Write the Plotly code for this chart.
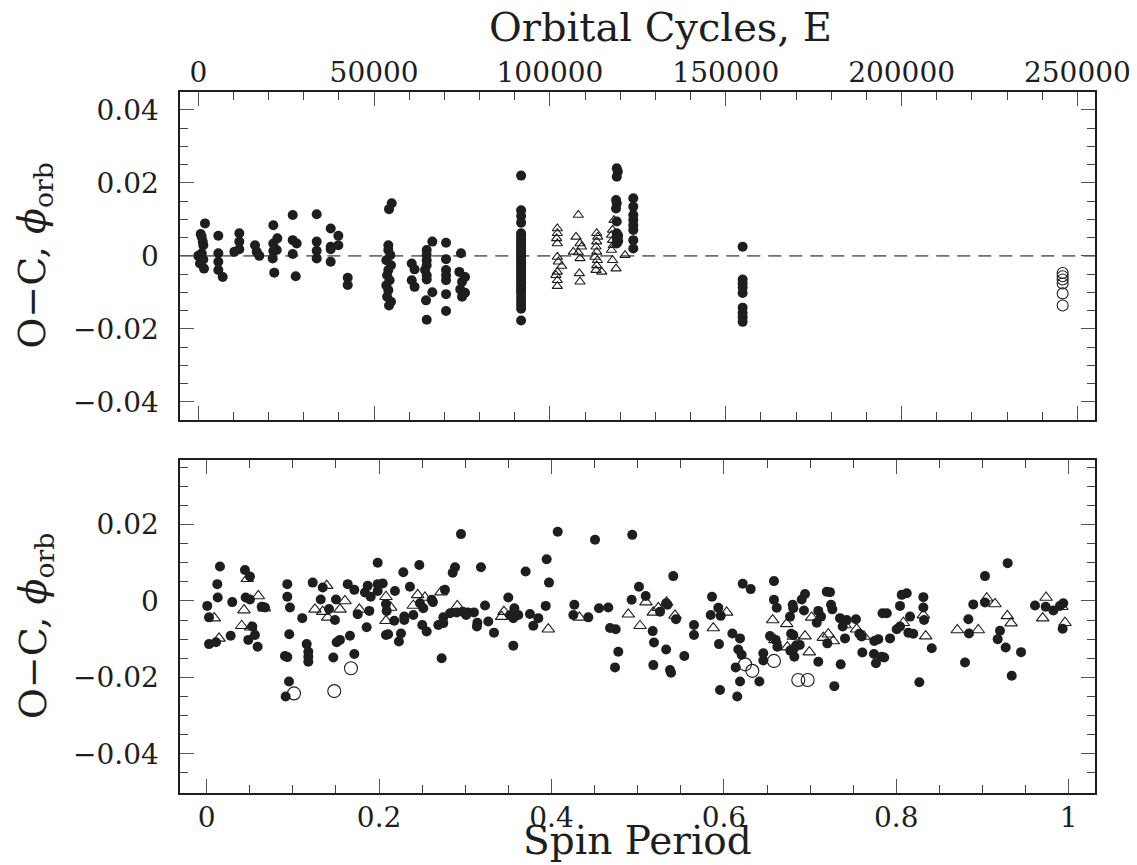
import plotly.graph_objects as go

# ---------------- Top panel: O-C vs orbital cycle E ----------------
top_filled_E = [
    1900, 680, 970, 1250, 1420, 0, 970, 970, 480, 1620, 1420,
    5690, 5690, 5690, 5690, 6940,
    11660, 11660, 11660, 10240,
    16130, 16600, 17350,
    21330, 21330, 22470, 22300, 21330, 21160, 21610,
    26850, 26850, 27980, 26850, 27700,
    33670, 33670, 33670, 33670,
    37650, 37650, 37650, 37650, 39820, 39820,
    42490, 42490,
    55000, 54240, 54040, 54040, 54600, 53470, 54800, 54040, 53700, 54400, 53470, 54040, 53700, 54800, 54240,
    60690, 61500, 60690, 61500,
    64950, 64950, 64950, 64950, 64470, 64950, 64950, 66550, 66550, 64760, 64950,
    70450, 70450, 70450, 70450, 70450, 70450, 70450,
    74710, 74230, 75850, 75000, 74500, 75850, 75000,
    91800, 91800, 91800, 91800, 91800, 91800, 91800, 91800, 91800, 91800, 91800,
    91800, 91800, 91800, 91800, 91800, 91800, 91800, 91800, 91800, 91800, 91800,
    91800, 91800, 91800, 91800, 91800, 91800, 91800, 91800, 91800, 91800,
    119000, 119300, 119000, 118800, 119000, 118800, 119000, 119000, 119400, 119000, 119400, 119000,
    123700, 123700, 123700, 123700, 123700, 123700, 123700, 123700,
    154800, 154800, 154800, 154800, 154800, 154800, 154800, 154800, 154800,
]
top_filled_oc = [
    0.0089, 0.0060, 0.0052, 0.0039, 0.0029, 0.0000, 0.0007, -0.0007, -0.0021, -0.0035, -0.0010,
    0.0055, 0.0007, -0.0016, -0.0039, -0.0058,
    0.0062, 0.0039, 0.0018, 0.0011,
    0.0029, 0.0011, 0.0000,
    0.0084, 0.0034, 0.0048, 0.0016, 0.0013, -0.0007, -0.0046,
    0.0112, 0.0043, 0.0034, 0.0005, -0.0056,
    0.0114, 0.0039, 0.0014, -0.0007,
    0.0075, 0.0025, 0.0018, -0.0016, 0.0055, 0.0029,
    -0.0060, -0.0080,
    0.0144, 0.0128, 0.0029, 0.0016, 0.0002, -0.0012, -0.0026, -0.0039, -0.0053, -0.0067, -0.0081, -0.0094, -0.0112, -0.0126, -0.0136,
    -0.0021, -0.0037, -0.0067, -0.0085,
    0.0016, 0.0002, -0.0012, -0.0026, -0.0039, -0.0053, -0.0065, 0.0039, -0.0100, -0.0122, -0.0175,
    0.0036, -0.0009, -0.0039, -0.0053, -0.0067, -0.0105, -0.0151,
    0.0007, -0.0044, -0.0058, -0.0071, -0.0092, -0.0101, -0.0112,
    0.0220, 0.0125, 0.0109, 0.0091, 0.0062, 0.0055, 0.0047, 0.0040, 0.0032, 0.0025, 0.0017,
    0.0010, 0.0002, -0.0005, -0.0013, -0.0020, -0.0028, -0.0035, -0.0043, -0.0050, -0.0058, -0.0065,
    -0.0073, -0.0080, -0.0088, -0.0095, -0.0103, -0.0115, -0.0125, -0.0135, -0.0145, -0.0177,
    0.0240, 0.0231, 0.0217, 0.0153, 0.0144, 0.0130, 0.0094, 0.0062, 0.0055, 0.0048, 0.0041, 0.0034,
    0.0158, 0.0135, 0.0112, 0.0098, 0.0084, 0.0071, 0.0043, 0.0020,
    0.0025, -0.0065, -0.0076, -0.0087, -0.0102, -0.0142, -0.0157, -0.0168, -0.0181,
]
top_tri_E = [
    102100, 102100, 101900, 102100, 102100, 102400, 103350, 102100, 101700, 102100, 102100,
    108070, 107420, 108550, 109000, 106650, 108070, 108550, 108360, 108550,
    113300, 113600, 113300, 113100, 113300, 112800, 113500, 113300, 113100, 114730,
    118230, 117800, 117500, 117800, 118000, 117500, 121350, 117800, 118800,
]
top_tri_oc = [
    0.0075, 0.0062, 0.0048, 0.0034, -0.0003, -0.0016, -0.0028, -0.0044, -0.0053, -0.0067, -0.0083,
    0.0112, 0.0052, 0.0034, 0.0025, 0.0011, 0.0009, -0.0007, -0.0048, -0.0071,
    0.0062, 0.0052, 0.0039, 0.0025, 0.0011, -0.0003, -0.0012, -0.0026, -0.0039, -0.0044,
    0.0098, 0.0071, 0.0057, 0.0043, 0.0029, 0.0016, 0.0002, -0.0012, -0.0035,
]
top_open_E = [245800, 245800, 245800, 245800, 245800, 245800]
top_open_oc = [-0.0047, -0.0056, -0.0065, -0.0076, -0.0103, -0.0136]

# ---------------- Bottom panel: O-C vs spin phase ----------------
bot_filled_phase = [
    0.0007, 0.0027, 0.0027, 0.0108, 0.0123, 0.0128, 0.0154, 0.0278, 0.0297, 0.0444, 0.0502, 0.0452,
    0.0502, 0.0483, 0.0529, 0.0560, 0.0591, 0.0638, 0.0676,
    0.0935, 0.0935, 0.0966, 0.0908, 0.0935, 0.0958, 0.0955, 0.0916,
    0.1109, 0.1160, 0.1179, 0.1179, 0.1179, 0.1230, 0.1323, 0.1346, 0.1419, 0.1469, 0.1488, 0.1500,
    0.1508, 0.1546, 0.1636, 0.1662, 0.1713, 0.1713, 0.1752, 0.1836, 0.1856, 0.1868, 0.1887, 0.1903,
    0.1984, 0.1984, 0.2042, 0.1984, 0.2080, 0.2088, 0.2080, 0.2105, 0.2184, 0.2176, 0.2230, 0.2254,
    0.2281, 0.2292, 0.2292, 0.2358, 0.2397, 0.2467,
    0.2474, 0.2513, 0.2501, 0.2552, 0.2610, 0.2625, 0.2764, 0.2726, 0.2687, 0.2745, 0.2745, 0.2823,
    0.2854, 0.2881, 0.2900, 0.2970, 0.3030, 0.3010, 0.3100, 0.2950, 0.3140, 0.3135, 0.3182, 0.3229,
    0.3267, 0.3333, 0.3499, 0.3520, 0.3557, 0.3569, 0.3615, 0.3557, 0.3700, 0.3750, 0.3789, 0.3847,
    0.3933, 0.3944, 0.3971, 0.4072,
    0.4505, 0.4937, 0.5413, 0.4265, 0.4253, 0.4427, 0.4551, 0.4659, 0.4679, 0.4745, 0.4775, 0.4737,
    0.4930, 0.5015, 0.5093, 0.5174, 0.5189, 0.5181, 0.5259, 0.5330, 0.5345, 0.5330, 0.5375, 0.5387,
    0.5444, 0.5541, 0.5653, 0.5653, 0.5862, 0.5847, 0.5935, 0.5963, 0.5943, 0.6218, 0.6311, 0.6098,
    0.6187, 0.6167, 0.6206, 0.6137, 0.6187, 0.5955, 0.6155, 0.6411,
    0.6581, 0.6581, 0.6613, 0.6535, 0.6600, 0.6620, 0.6457, 0.6457, 0.6767, 0.6798, 0.6805, 0.6780,
    0.6805, 0.6770, 0.6810, 0.6840, 0.6880, 0.6817, 0.6903, 0.6941, 0.6929, 0.7077, 0.7095, 0.7127,
    0.7095, 0.7193, 0.7231, 0.7243, 0.7258, 0.7200, 0.7281, 0.7347, 0.7378, 0.7425, 0.7405, 0.7355,
    0.7532, 0.7571, 0.7598, 0.7606, 0.7745, 0.7791, 0.7741, 0.7764, 0.7830, 0.7860, 0.7840, 0.7890,
    0.7927, 0.8005, 0.8043, 0.8063, 0.8121, 0.8043, 0.8140, 0.8197, 0.8159, 0.8314, 0.8314, 0.8322,
    0.8411, 0.8267,
    0.8797, 0.8836, 0.8843, 0.8893, 0.9029, 0.9029, 0.9203, 0.9176, 0.9269, 0.9292, 0.9339, 0.9447,
    0.9609, 0.9733, 0.9822, 0.9899, 0.9937, 0.9930,
]
bot_filled_oc = [
    -0.0013, -0.0043, -0.0113, -0.0108, 0.0044, 0.0009, 0.0090, -0.0091, -0.0003, 0.0081, 0.0064, 0.0009,
    0.0004, -0.0102, -0.0067, -0.0089, -0.0120, -0.0015, -0.0017,
    0.0044, 0.0011, -0.0017, -0.0144, -0.0147, -0.0087, -0.0211, -0.0250,
    -0.0045, -0.0113, -0.0133, -0.0146, -0.0159, 0.0048, 0.0004, 0.0035, -0.0021, -0.0148, -0.0050, 0.0004,
    -0.0108, -0.0102, 0.0044, -0.0091, 0.0029, -0.0139, -0.0035, 0.0022, -0.0069, 0.0040, -0.0026, 0.0011,
    0.0100, 0.0044, 0.0046, 0.0026, -0.0008, -0.0026, -0.0089, -0.0087, 0.0026, -0.0052, -0.0106, -0.0085,
    0.0075, -0.0041, -0.0050, 0.0037, -0.0037, 0.0094,
    -0.0006, -0.0019, -0.0063, -0.0080, 0.0003, -0.0003, 0.0029, -0.0150, -0.0063, -0.0043, -0.0058, -0.0032,
    0.0074, 0.0088, -0.0030, -0.0028, -0.0030, -0.0037, -0.0030, 0.0175, -0.0057, -0.0067, 0.0088, -0.0012,
    -0.0054, -0.0083, 0.0009, -0.0037, -0.0045, -0.0019, -0.0037, -0.0117, 0.0077, -0.0034, -0.0065, -0.0045,
    -0.0013, 0.0109, 0.0048, 0.0181,
    0.0160, 0.0173, 0.0065, -0.0010, -0.0037, -0.0043, -0.0019, -0.0017, -0.0071, -0.0074, -0.0133, -0.0174,
    0.0003, 0.0037, 0.0013, -0.0079, -0.0109, -0.0168, -0.0028, -0.0006, -0.0010, -0.0127, -0.0181, -0.0188,
    -0.0048, -0.0144, -0.0063, -0.0089, 0.0011, -0.0037, -0.0018, -0.0039, -0.0113, 0.0045, 0.0031, -0.0085,
    -0.0098, -0.0127, -0.0141, -0.0174, -0.0211, -0.0233, -0.0250, -0.0211,
    0.0052, 0.0003, -0.0018, -0.0092, -0.0102, -0.0120, -0.0137, -0.0156, -0.0041, -0.0010, -0.0019, -0.0086,
    -0.0089, -0.0130, -0.0125, -0.0116, -0.0115, -0.0146, 0.0004, 0.0018, -0.0025, -0.0057, -0.0026, -0.0041,
    -0.0159, 0.0024, 0.0023, -0.0010, -0.0022, -0.0111, -0.0223, -0.0045, -0.0067, -0.0050, -0.0098, -0.0166,
    -0.0048, -0.0086, -0.0093, -0.0135, -0.0105, -0.0100, -0.0139, -0.0163, -0.0146, -0.0148, -0.0032, -0.0032,
    -0.0098, -0.0074, -0.0013, 0.0016, 0.0020, -0.0067, -0.0083, -0.0086, -0.0041, 0.0010, -0.0017, -0.0050,
    -0.0124, -0.0213,
    -0.0161, -0.0048, -0.0085, -0.0009, 0.0065, -0.0004, -0.0078, -0.0100, -0.0122, 0.0099, -0.0196, -0.0134,
    -0.0012, -0.0015, -0.0025, -0.0013, -0.0006, -0.0073,
]
bot_tri_phase = [
    0.0088, 0.0143, 0.0433, 0.0406, 0.0471, 0.0510, 0.0599, 0.0669, 0.1256, 0.1346, 0.1392, 0.1404,
    0.1546, 0.1604, 0.1771, 0.2080, 0.2080, 0.2134, 0.2397, 0.2448, 0.2532, 0.2718, 0.2907, 0.3422,
    0.3449, 0.3963, 0.4323, 0.4891, 0.5027, 0.5096, 0.5181, 0.5239, 0.5336, 0.5433, 0.5877, 0.6032,
    0.6566, 0.6729, 0.6593, 0.6736, 0.6806, 0.6941, 0.6991, 0.7018, 0.7153, 0.7211, 0.7269, 0.7405,
    0.7540, 0.7625, 0.8082, 0.8314, 0.8341, 0.8708, 0.8951, 0.9049, 0.9145, 0.9288, 0.9331, 0.9737,
    0.9698, 0.9919, 0.9957,
]
bot_tri_oc = [
    -0.0045, -0.0098, -0.0024, -0.0065, 0.0058, -0.0069, 0.0013, -0.0019, -0.0022, -0.0028, 0.0040, -0.0043,
    -0.0022, 0.0000, -0.0022, 0.0011, -0.0052, -0.0017, -0.0012, 0.0016, 0.0009, 0.0023, -0.0013, -0.0041,
    -0.0028, -0.0074, -0.0043, -0.0035, -0.0065, -0.0003, -0.0030, -0.0018, -0.0004, -0.0038, -0.0071, -0.0030,
    -0.0050, -0.0060, -0.0102, -0.0121, -0.0093, -0.0092, -0.0134, -0.0043, -0.0096, -0.0087, -0.0105, -0.0063,
    -0.0074, -0.0093, -0.0057, -0.0037, -0.0092, -0.0076, -0.0076, 0.0007, -0.0008, -0.0039, -0.0058, 0.0009,
    -0.0045, -0.0015, -0.0057,
]
bot_open_phase = [0.1013, 0.1480, 0.1674, 0.6245, 0.6330, 0.6581, 0.6863, 0.6972]
bot_open_oc = [-0.0242, -0.0236, -0.0176, -0.0166, -0.0183, -0.0157, -0.0207, -0.0207]

# tick settings (values)
E_ticks = [0, 50000, 100000, 150000, 200000, 250000]
phase_ticks = [0, 0.2, 0.4, 0.6, 0.8, 1.0]

W, H = 1137, 865
FONT = "DejaVu Serif"
INK = "#1e1e1e"

xdom = [180.3 / W, 1095 / W]
top_dom = [1 - 420 / H, 1 - 91.7 / H]
bot_dom = [1 - 792.7 / H, 1 - 460 / H]

fig = go.Figure()

dot = dict(symbol="circle", color=INK, size=10, line=dict(width=0))
fig.add_trace(go.Scatter(x=top_filled_E, y=top_filled_oc, mode="markers", marker=dot,
                         xaxis="x", yaxis="y", showlegend=False))
fig.add_trace(go.Scatter(x=top_tri_E, y=top_tri_oc, mode="markers",
                         marker=dict(symbol="triangle-up-open", color=INK, size=9, line=dict(width=1.1)),
                         xaxis="x", yaxis="y", showlegend=False))
fig.add_trace(go.Scatter(x=top_open_E, y=top_open_oc, mode="markers",
                         marker=dict(symbol="circle-open", color=INK, size=11, line=dict(width=1.1)),
                         xaxis="x", yaxis="y", showlegend=False))

fig.add_trace(go.Scatter(x=bot_filled_phase, y=bot_filled_oc, mode="markers", marker=dot,
                         xaxis="x2", yaxis="y2", showlegend=False))
fig.add_trace(go.Scatter(x=bot_tri_phase, y=bot_tri_oc, mode="markers",
                         marker=dict(symbol="triangle-up-open", color=INK, size=11, line=dict(width=1.1)),
                         xaxis="x2", yaxis="y2", showlegend=False))
fig.add_trace(go.Scatter(x=bot_open_phase, y=bot_open_oc, mode="markers",
                         marker=dict(symbol="circle-open", color=INK, size=13, line=dict(width=1.1)),
                         xaxis="x2", yaxis="y2", showlegend=False))

tickfont = dict(family=FONT, size=28, color=INK)


def axis(**kw):
    base = dict(showline=True, linecolor=INK, linewidth=1.6, mirror="ticks",
                ticks="inside", ticklen=14, tickwidth=1.2, tickcolor="#555",
                showgrid=False, zeroline=False, tickfont=tickfont, fixedrange=True,
                automargin=False)
    base.update(kw)
    return base


fig.update_layout(
    width=W, height=H, autosize=False,
    margin=dict(l=0, r=0, t=0, b=0, pad=0),
    paper_bgcolor="white", plot_bgcolor="white",
    xaxis=axis(domain=xdom, anchor="y", side="top", range=[-5120, 255000],
               tickvals=E_ticks, tickformat="d", ticklabelstandoff=-3,
               minor=dict(ticks="inside", ticklen=8, tickwidth=1.1, tickcolor="#444", dtick=10000, tick0=0)),
    yaxis=axis(domain=top_dom, anchor="x", range=[-0.045, 0.045], tick0=0, dtick=0.02,
               ticklabelstandoff=14,
               minor=dict(ticks="inside", ticklen=8, tickwidth=1.1, tickcolor="#444", dtick=0.005, tick0=0)),
    xaxis2=axis(domain=xdom, anchor="y2", range=[-0.0306, 1.0305], tickvals=phase_ticks,
                ticklabelstandoff=-1,
                minor=dict(ticks="inside", ticklen=8, tickwidth=1.1, tickcolor="#444", dtick=0.05, tick0=0)),
    yaxis2=axis(domain=bot_dom, anchor="x2", range=[-0.0502, 0.0369], tick0=0, dtick=0.02,
                ticklabelstandoff=14,
                minor=dict(ticks="inside", ticklen=8, tickwidth=1.1, tickcolor="#444", dtick=0.005, tick0=0)),
)

# dashed zero line in the top panel
fig.add_shape(type="line", xref="x domain", yref="y", x0=0, x1=1, y0=0, y1=0,
              line=dict(color="#707070", width=1.6, dash="13px,8px"), layer="below")

title_font = dict(family=FONT, size=40, color=INK)
fig.add_annotation(text="Orbital Cycles, E", xref="paper", yref="paper",
                   x=660 / W, y=1 - 27 / H, xanchor="center", yanchor="middle",
                   showarrow=False, font=title_font)
fig.add_annotation(text="Spin Period", xref="paper", yref="paper",
                   x=637.5 / W, y=0.0, xanchor="center", yanchor="bottom",
                   showarrow=False, font=dict(family=FONT, size=39, color=INK))
ytitle = "O\u2212C, <i>\u03d5</i><sub>orb</sub>"
for yc in [(91.7 + 420) / 2, (460 + 792.7) / 2]:
    fig.add_annotation(text=ytitle, xref="paper", yref="paper",
                       x=35 / W, y=1 - yc / H, xanchor="center", yanchor="middle",
                       textangle=-90, showarrow=False, font=dict(family=FONT, size=38, color=INK))

fig.write_html("out.html", config={"displayModeBar": False})
